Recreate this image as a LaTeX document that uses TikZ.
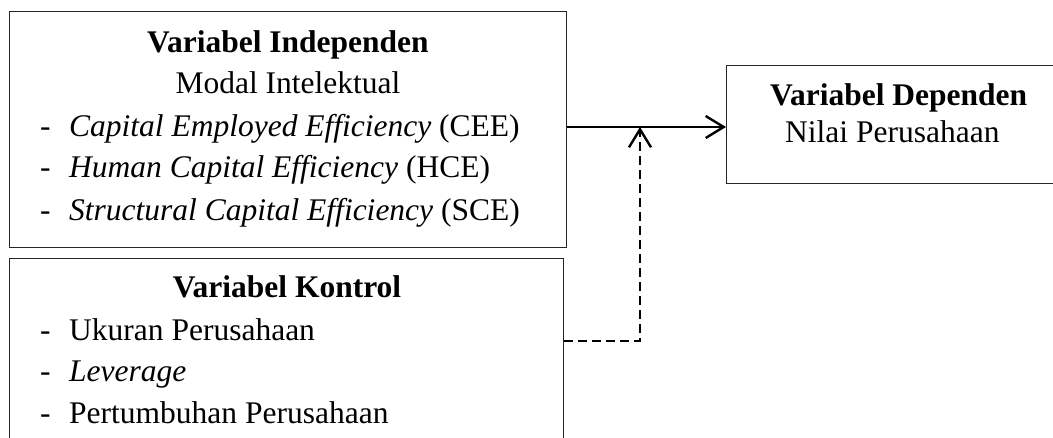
\documentclass[tikz,border=0pt]{standalone}
\usepackage{fontspec}
\setmainfont{Liberation Serif}
\usetikzlibrary{arrows.meta}
\begin{document}
\begin{tikzpicture}[x=1pt,y=-1pt,
  font=\fontsize{31.5}{38}\selectfont,
  box/.style={draw=black!85, line width=1.4pt, inner sep=0pt, anchor=north west},
  txt/.style={anchor=base west, inner sep=0pt},
  mid/.style={anchor=base, inner sep=0pt},
  ttl/.style={inner sep=0pt, font=\fontsize{31.5}{38}\selectfont\bfseries},
  conn/.style={line width=2.4pt, -{Straight Barb[length=18pt,width=22pt,line width=2.4pt]}},
  dconn/.style={conn, dash pattern=on 9pt off 5pt}]
\clip (0,0) rectangle (1053,437);
% boxes
\node[box, minimum width=557pt, minimum height=236pt] (ind) at (9,11) {};
\node[box, minimum width=554pt, minimum height=220pt] (kon) at (9,258) {};
\node[box, minimum width=350pt, minimum height=118pt] (dep) at (726,65) {};
% independent texts
\node[ttl, anchor=base] (indT) at (288,52) {Variabel Independen};
\node[mid] (indS) at (288,93) {Modal Intelektual};
\node[txt] (d1) at (40,136) {-};
\node[txt] (t1) at (69,136) {\textit{Capital Employed Efficiency} (CEE)};
\node[txt] (d2) at (40,177) {-};
\node[txt] (t2) at (69,177) {\textit{Human Capital Efficiency} (HCE)};
\node[txt] (d3) at (40,220) {-};
\node[txt] (t3) at (69,220) {\textit{Structural Capital Efficiency} (SCE)};
% control texts
\node[ttl, anchor=base] (konT) at (287,297) {Variabel Kontrol};
\node[txt] (d4) at (40,340) {-};
\node[txt] (t4) at (69,340) {Ukuran Perusahaan};
\node[txt] (d5) at (40,381) {-};
\node[txt] (t5) at (69,381) {\textit{Leverage}};
\node[txt] (d6) at (40,423) {-};
\node[txt] (t6) at (69,423) {Pertumbuhan Perusahaan};
% dependent texts
\node[ttl, anchor=base west] (depT) at (770,105) {Variabel Dependen};
\node[txt] (depS) at (785,142) {Nilai Perusahaan};
% connectors
\coordinate (j) at (640,127);
\coordinate (k) at (563,341);
\draw[conn] (ind.east |- j) -- (dep.west |- j);
\draw[dconn] (kon.east |- k) -- (j |- k) -- (j);
\end{tikzpicture}
\end{document}
